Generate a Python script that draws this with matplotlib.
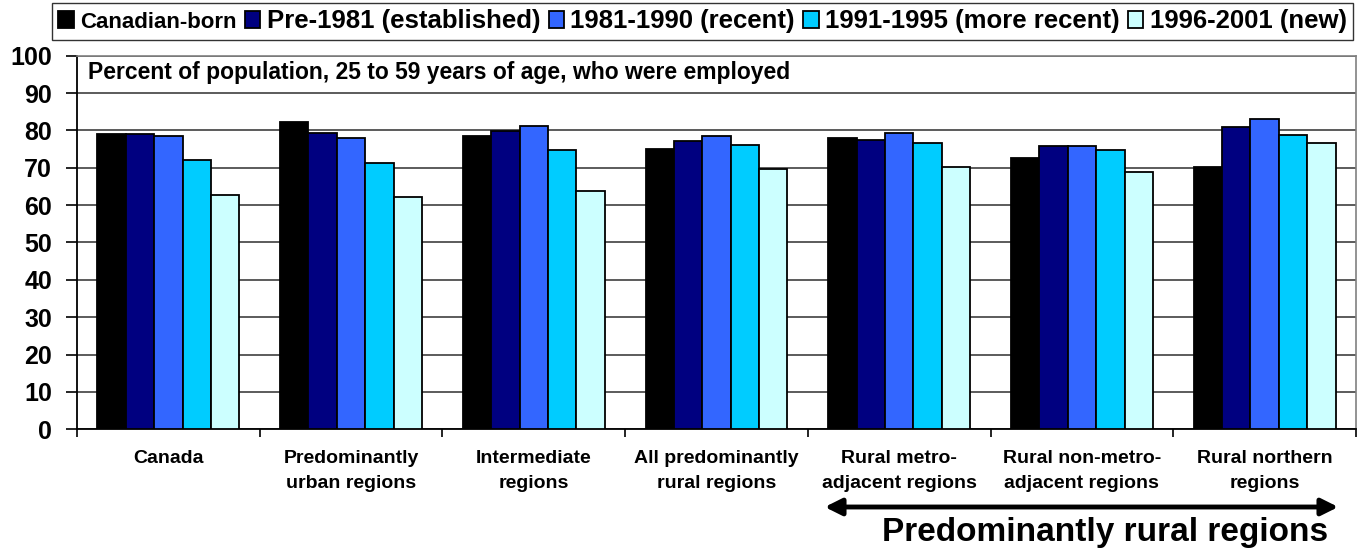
import matplotlib
matplotlib.use("Agg")
import matplotlib.pyplot as plt
import numpy as np

categories = ["Canada", "Predominantly\nurban regions", "Intermediate\nregions",
              "All predominantly\nrural regions", "Rural metro-\nadjacent regions",
              "Rural non-metro-\nadjacent regions", "Rural northern\nregions"]
series_names = ["Canadian-born", "Pre-1981 (established)", "1981-1990 (recent)",
                "1991-1995 (more recent)", "1996-2001 (new)"]
canadian_born = [79.1, 82.3, 78.6, 74.9, 78.1, 72.6, 70.3]
pre_1981 = [79.0, 79.4, 79.8, 77.1, 77.5, 75.8, 80.8]
recent_1981_1990 = [78.4, 78.0, 81.2, 78.4, 79.4, 75.7, 83.1]
more_recent_1991_1995 = [72.0, 71.4, 74.8, 76.2, 76.7, 74.8, 78.9]
new_1996_2001 = [62.8, 62.3, 63.8, 69.8, 70.1, 68.9, 76.7]
colors = ["#000000", "#000080", "#3366FF", "#00CCFF", "#CCFFFF"]
yticks = list(range(0, 101, 10))

plt.rcParams['font.family'] = ['Liberation Sans', 'DejaVu Sans']
plt.rcParams['font.weight'] = 'bold'

fig = plt.figure(figsize=(13.72, 5.5), dpi=100)
ax = fig.add_axes([77/1372, 1-429.3/550, (1356-77)/1372, (429.3-55.7)/550])

series = [canadian_born, pre_1981, recent_1981_1990, more_recent_1991_1995, new_1996_2001]
n = len(series)
bw = 0.1554
x = np.arange(len(categories)) + 0.5
handles = []
for i, (vals, c) in enumerate(zip(series, colors)):
    h = ax.bar(x + (i - (n-1)/2)*bw, vals, width=bw, color=c, edgecolor='black',
               linewidth=1.3, zorder=3)
    handles.append(h)

ax.set_xlim(0, len(categories))
ax.set_ylim(0, 100)
ax.set_yticks(yticks)
ax.set_yticklabels([str(t) for t in yticks], fontsize=18, fontweight='bold')
ax.yaxis.grid(True, color='#404040', linewidth=1.2, zorder=0)
ax.set_xticks(np.arange(0, len(categories)+1))
ax.set_xticklabels([])
ax.set_xticks(x, minor=True)
ax.set_xticklabels(categories, minor=True, fontsize=14, fontweight='bold', linespacing=1.6)
ax.tick_params(axis='x', which='minor', length=0, pad=15)
ax.tick_params(axis='x', which='major', length=6, width=1.2, direction='out')
ax.tick_params(axis='y', length=8, width=1.2, direction='out', pad=10)
for s in ['left', 'bottom']:
    ax.spines[s].set_color('black')
    ax.spines[s].set_linewidth(1.3)
for s in ['top', 'right']:
    ax.spines[s].set_color('#808080')
    ax.spines[s].set_linewidth(1.2)

ax.text(88/1372, 95.4, "Percent of population, 25 to 59 years of age, who were employed",
        transform=matplotlib.transforms.blended_transform_factory(fig.transFigure, ax.transData),
        fontsize=16.5, fontweight='bold', va='center', ha='left', zorder=5)

leg = fig.legend(handles, series_names, loc='upper left', bbox_to_anchor=(52/1372, 1-3/550),
                 ncol=5, frameon=True, fancybox=False, edgecolor='black',
                 prop={'weight': 'bold', 'size': 18.5}, handlelength=0.6, handleheight=0.6,
                 handletextpad=0.25, columnspacing=0.32, borderpad=0.25, borderaxespad=0)
leg.get_frame().set_linewidth(1.0)
leg.get_texts()[0].set_fontsize(16)

fig.patches.append(matplotlib.patches.FancyArrowPatch(
    (822/1372, 1-507/550), (1341/1372, 1-507/550), transform=fig.transFigure,
    arrowstyle='<|-|>,head_length=10,head_width=5', color='black', linewidth=3.5,
    mutation_scale=1))
fig.text(1105/1372, 1-533/550, "Predominantly rural regions", fontsize=24,
         fontweight='bold', ha='center', va='center')

fig.savefig("out.png", dpi=100)
